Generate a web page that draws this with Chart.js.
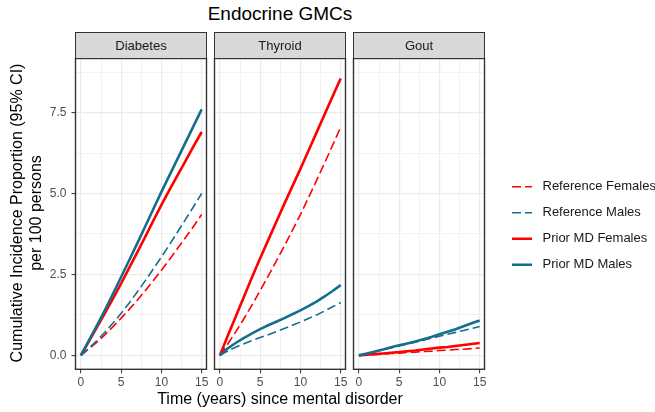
<!DOCTYPE html>
<html>
<head>
<meta charset="utf-8">
<script src="https://cdn.jsdelivr.net/npm/chart.js@4.4.1/dist/chart.umd.min.js"></script>
<style>
  body { margin: 0; overflow: hidden; background: #fff; font-family: "Liberation Sans", Arial, sans-serif; }
  #wrap { position: relative; width: 655px; height: 412px; overflow: hidden; }
  canvas { position: absolute; top: 50px; }
  .strip { position: absolute; top: 32px; width: 132px; height: 27px; box-sizing: border-box;
           background: #d9d9d9; border: 1px solid #333; text-align: center; line-height: 25px;
           font-size: 13px; color: #1a1a1a; }
  #title { position: absolute; left: 0; width: 560px; top: 4px; text-align: center;
           font-size: 19px; line-height: 19px; color: #000; }
  #xtitle { position: absolute; left: 0; width: 560px; top: 391px; text-align: center;
            font-size: 16px; line-height: 16px; color: #000; }
  #ytitle { position: absolute; left: -134px; top: 194px; width: 320px; height: 38px;
            text-align: center; font-size: 16px; line-height: 19px; color: #000;
            transform: rotate(-90deg); }
</style>
</head>
<body>
<div id="wrap">
  <canvas id="p1" width="210" height="345" style="left:0px"></canvas>
  <canvas id="p2" width="140" height="345" style="left:210px"></canvas>
  <canvas id="p3" width="305" height="345" style="left:350px"></canvas>
  <div class="strip" style="left:75px">Diabetes</div>
  <div class="strip" style="left:214px">Thyroid</div>
  <div class="strip" style="left:353px">Gout</div>
  <div id="title">Endocrine GMCs</div>
  <div id="xtitle">Time (years) since mental disorder</div>
  <div id="ytitle">Cumulative Incidence Proportion (95% CI)<br>per 100 persons</div>
</div>
<script>
// years since mental disorder
const years = [0, 1, 2, 3, 4, 5, 6, 7, 8, 9, 10, 11, 12, 13, 14, 15];
const seriesNames = ['Reference Females', 'Reference Males', 'Prior MD Females', 'Prior MD Males'];

// Diabetes
const diabetesRefF   = [0, 0.20, 0.41, 0.64, 0.89, 1.15, 1.42, 1.70, 2.00, 2.31, 2.63, 2.96, 3.30, 3.64, 3.99, 4.35];
const diabetesRefM   = [0, 0.22, 0.46, 0.72, 1.00, 1.30, 1.62, 1.96, 2.31, 2.67, 3.04, 3.42, 3.81, 4.20, 4.60, 5.00];
const diabetesPriorF = [0, 0.43, 0.87, 1.31, 1.76, 2.22, 2.70, 3.18, 3.67, 4.16, 4.65, 5.11, 5.56, 6.01, 6.46, 6.90];
const diabetesPriorM = [0, 0.46, 0.93, 1.41, 1.91, 2.42, 2.94, 3.46, 3.99, 4.52, 5.05, 5.56, 6.07, 6.58, 7.09, 7.60];
// Thyroid
const thyroidRefF   = [0, 0.36, 0.74, 1.14, 1.56, 2.00, 2.45, 2.91, 3.38, 3.86, 4.35, 4.87, 5.40, 5.94, 6.49, 7.05];
const thyroidRefM   = [0, 0.14, 0.26, 0.36, 0.46, 0.55, 0.64, 0.73, 0.83, 0.93, 1.03, 1.14, 1.25, 1.37, 1.50, 1.63];
const thyroidPriorF = [0, 0.62, 1.22, 1.82, 2.42, 3.00, 3.56, 4.12, 4.68, 5.22, 5.76, 6.32, 6.88, 7.44, 8.00, 8.55];
const thyroidPriorM = [0, 0.22, 0.39, 0.54, 0.68, 0.81, 0.93, 1.04, 1.15, 1.27, 1.39, 1.52, 1.66, 1.82, 1.99, 2.17];
// Gout
const goutRefF   = [0, 0.01, 0.03, 0.04, 0.06, 0.07, 0.09, 0.10, 0.12, 0.13, 0.15, 0.16, 0.18, 0.19, 0.21, 0.23];
const goutRefM   = [0, 0.05, 0.11, 0.17, 0.23, 0.29, 0.35, 0.41, 0.47, 0.53, 0.59, 0.65, 0.71, 0.77, 0.83, 0.89];
const goutPriorF = [0, 0.02, 0.04, 0.06, 0.08, 0.10, 0.13, 0.15, 0.18, 0.21, 0.24, 0.26, 0.29, 0.32, 0.35, 0.38];
const goutPriorM = [0, 0.06, 0.12, 0.18, 0.25, 0.31, 0.37, 0.43, 0.50, 0.57, 0.65, 0.73, 0.81, 0.90, 0.99, 1.08];

// axis ticks
const xTicks = [0, 5, 10, 15];
const xTickLabels = ['0', '5', '10', '15'];
const xMinorTicks = [2.5, 7.5, 12.5];
const yTicks = [0, 2.5, 5, 7.5];
const yTickLabels = ['0.0', '2.5', '5.0', '7.5'];
const yMinorTicks = [1.25, 3.75, 6.25, 8.75];

const RED = '#ff0000';
const BLUE = '#136f8c';
const styles = [
  { color: RED,  width: 1.6, dash: [9, 4], order: 4 },
  { color: BLUE, width: 1.6, dash: [9, 4], order: 3 },
  { color: RED,  width: 2.6, dash: [],     order: 2 },
  { color: BLUE, width: 2.6, dash: [],     order: 1 }
];

Chart.defaults.font.family = '"Liberation Sans", Arial, sans-serif';

// page geometry of the panels
const CANVAS_TOP = 50, CANVAS_H = 345;
const AREA_TOP = 58.5, AREA_BOTTOM = 369.3, XAXIS_H = 22;

const panels = [
  { id: 'p1', canvasLeft: 0,   canvasWidth: 210, left: 75.5,  right: 206.5, yAxis: true,
    series: [diabetesRefF, diabetesRefM, diabetesPriorF, diabetesPriorM] },
  { id: 'p2', canvasLeft: 210, canvasWidth: 140, left: 214.5, right: 345.5, yAxis: false,
    series: [thyroidRefF, thyroidRefM, thyroidPriorF, thyroidPriorM] },
  { id: 'p3', canvasLeft: 350, canvasWidth: 305, left: 353.5, right: 484.5, yAxis: false, legend: true,
    series: [goutRefF, goutRefM, goutPriorF, goutPriorM] }
];

// ggplot style full panel border
const panelBorder = {
  id: 'panelBorder',
  afterDatasetsDraw(chart) {
    const { ctx, chartArea: a } = chart;
    ctx.save();
    ctx.strokeStyle = '#333';
    ctx.lineWidth = 1.4;
    ctx.strokeRect(a.left, a.top, a.right - a.left, a.bottom - a.top);
    ctx.restore();
  }
};

// move legend to the right of the facets
function legendPlace(canvasLeft) {
  return {
    id: 'legendPlace',
    afterLayout(chart) {
      const lg = chart.legend;
      if (!lg) return;
      const pad = lg.options.labels.padding;
      lg.left = 512 - canvasLeft - pad;
      lg.right = chart.width + 50;
      lg.width = lg.right - lg.left;
      lg.top = 186.7 - CANVAS_TOP - 6.5 - pad;
      lg.bottom = lg.top + 200;
    }
  };
}

// legend key is a flat rect (stroked out and back); the long trailing gap
// hides the return stroke and leaves a little space before the text
function legendLabels(chart) {
  const items = Chart.defaults.plugins.legend.labels.generateLabels(chart);
  items.forEach(it => {
    it.lineDash = (it.lineDash && it.lineDash.length) ? [9, 4, 7, 100] : [20, 100];
    it.lineDashOffset = 0;
  });
  return items;
}

const allX = [...xTicks, ...xMinorTicks].sort((a, b) => a - b);
const allY = [...yTicks, ...yMinorTicks].sort((a, b) => a - b);

panels.forEach(p => {
  const yWidth = p.yAxis ? p.left - p.canvasLeft : 0;
  new Chart(document.getElementById(p.id), {
    type: 'line',
    data: {
      datasets: p.series.map((vals, i) => ({
        label: seriesNames[i],
        data: years.map((x, k) => ({ x: x, y: vals[k] })),
        borderColor: styles[i].color,
        backgroundColor: styles[i].color,
        borderWidth: styles[i].width,
        borderDash: styles[i].dash,
        order: styles[i].order,
        pointRadius: 0,
        tension: 0,
        fill: false
      }))
    },
    options: {
      responsive: false,
      animation: false,
      events: [],
      layout: {
        padding: {
          left: p.left - p.canvasLeft - yWidth,
          right: p.canvasLeft + p.canvasWidth - p.right,
          top: AREA_TOP - CANVAS_TOP,
          bottom: CANVAS_TOP + CANVAS_H - AREA_BOTTOM - XAXIS_H
        }
      },
      plugins: {
        title: { display: false },
        tooltip: { enabled: false },
        legend: {
          display: !!p.legend,
          position: 'chartArea',
          align: 'start',
          labels: {
            boxWidth: 24,
            boxHeight: 0,
            padding: 13,
            color: '#1a1a1a',
            font: { size: 13 },
            generateLabels: legendLabels,
            sort: (a, b) => a.datasetIndex - b.datasetIndex
          }
        }
      },
      scales: {
        x: {
          type: 'linear',
          min: -0.67,
          max: 15.6,
          afterBuildTicks: s => { s.ticks = allX.map(v => ({ value: v })); },
          afterFit: s => { s.height = XAXIS_H; s.paddingLeft = 0; s.paddingRight = 0; },
          border: { display: false },
          grid: {
            color: '#ebebeb',
            lineWidth: c => xTicks.includes(c.tick.value) ? 1.2 : 0.6,
            tickLength: 4,
            tickWidth: 1,
            tickColor: c => xTicks.includes(c.tick.value) ? '#333' : 'rgba(0,0,0,0)'
          },
          ticks: {
            color: '#4d4d4d',
            font: { size: 12 },
            padding: 2,
            maxRotation: 0,
            autoSkip: false,
            callback: v => { const i = xTicks.indexOf(v); return i < 0 ? '' : xTickLabels[i]; }
          }
        },
        y: {
          type: 'linear',
          min: -0.43,
          max: 9.17,
          afterBuildTicks: s => { s.ticks = allY.map(v => ({ value: v })); },
          afterFit: s => { s.width = yWidth; s.paddingTop = 0; s.paddingBottom = 0; },
          border: { display: false },
          grid: {
            color: '#ebebeb',
            lineWidth: c => yTicks.includes(c.tick.value) ? 1.2 : 0.6,
            drawTicks: p.yAxis,
            tickLength: 4,
            tickWidth: 1,
            tickColor: c => yTicks.includes(c.tick.value) ? '#333' : 'rgba(0,0,0,0)'
          },
          ticks: {
            display: p.yAxis,
            color: '#4d4d4d',
            font: { size: 12 },
            padding: 5,
            autoSkip: false,
            callback: v => { const i = yTicks.indexOf(v); return i < 0 ? '' : yTickLabels[i]; }
          }
        }
      }
    },
    plugins: p.legend ? [panelBorder, legendPlace(p.canvasLeft)] : [panelBorder]
  });
});
</script>
</body>
</html>
